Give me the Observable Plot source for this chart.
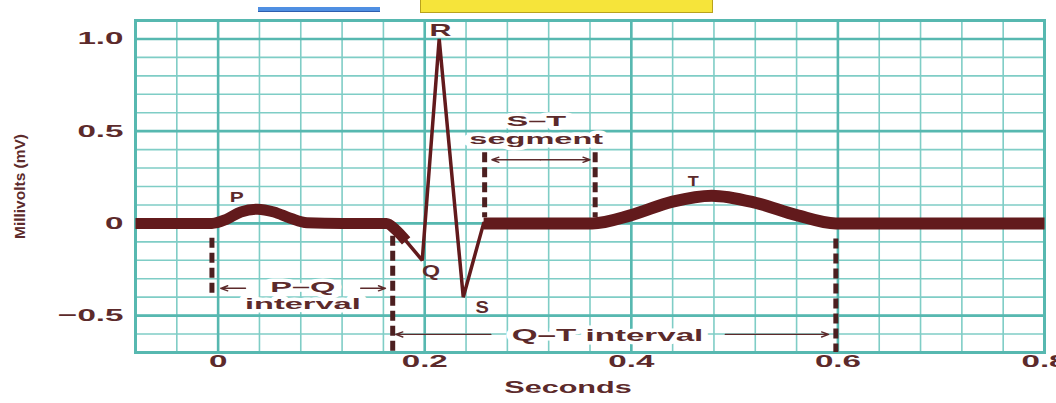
<!DOCTYPE html>
<html>
<head>
<meta charset="utf-8">
<script src="https://cdn.jsdelivr.net/npm/d3@7"></script>
<script src="https://cdn.jsdelivr.net/npm/@observablehq/plot@0.6"></script>
<style>
  html, body { margin: 0; padding: 0; background: #fff; overflow: hidden; }
  #wrap { position: relative; width: 1056px; height: 403px; }
  .deco { position: absolute; box-sizing: border-box; }
</style>
</head>
<body>
<div id="wrap">
  <div class="deco" style="left:258px; top:7px; width:122px; height:5px; background:#4f8fe2; border-bottom:1px solid #2e5fae;"></div>
  <div class="deco" style="left:420px; top:0px; width:293px; height:13px; background:#f6e43a; border:1px solid #b9a21c; border-top:none;"></div>
</div>
<script>
// ---- Data ----
// Thick trace: baseline, P wave, P–R segment (seconds, mV)
const pTime = [-0.08, -0.006, 0.008, 0.022, 0.038, 0.054, 0.070, 0.086, 0.12, 0.163, 0.172, 0.182];
const pMv   = [0, 0, 0.022, 0.062, 0.077, 0.062, 0.028, 0.003, 0, 0, -0.035, -0.095];
// Thin QRS complex
const qrsTime = [0.181, 0.1976, 0.2140, 0.2373, 0.257];
const qrsMv   = [-0.09, -0.20, 1.0, -0.40, 0];
// Thick trace: S–T segment, T wave, baseline
const tTime = [0.257, 0.30, 0.362, 0.40, 0.44, 0.478, 0.52, 0.56, 0.598, 0.65, 0.8];
const tMv   = [0, 0, 0, 0.045, 0.118, 0.150, 0.112, 0.045, 0, 0, 0];

// Dashed interval markers
const dashTime   = [-0.006, 0.169, 0.258, 0.365, 0.598];
const dashTop    = [-0.08, -0.07, 0.383, 0.383, -0.085];
const dashBottom = [-0.40, -0.70, 0.03, 0.03, -0.70];

// Arrows (tail -> head)
const arrowX1 = [0.0265, 0.138, 0.312, 0.312, 0.264, 0.491];
const arrowX2 = [0.0025, 0.162, 0.265, 0.360, 0.172, 0.591];
const arrowY  = [-0.352, -0.352, 0.345, 0.345, -0.602, -0.602];

// Wave labels
const waveLabels = ["P", "Q", "R", "S", "T"];
const waveTime   = [0.018, 0.206, 0.2153, 0.2555, 0.460];
const waveMv     = [0.140, -0.265, 1.045, -0.46, 0.230];
const waveSize   = [15, 16, 16, 16, 15];

// Interval labels
const noteLabels = ["P–Q\ninterval", "S–T\nsegment", "Q–T interval"];
const noteTime   = [0.082, 0.308, 0.377];
const noteMv     = [-0.389, 0.509, -0.602];
const noteSize   = [15.5, 15.5, 17];

// Axes
const xTicks = [0, 0.2, 0.4, 0.6, 0.8];
const xTickLabels = ["0", "0.2", "0.4", "0.6", "0.8"];
const yTicks = [1.0, 0.5, 0, -0.5];
const yTickLabels = ["1.0", "0.5", "0", "−0.5"];
const xTitle = "Seconds";
const yTitle = "Millivolts (mV)";
const yTitleAt = [0.2];

// ---- Styles ----
const traceColor = "#621a1c";
const dashColor = "#4c1f20";
const textColor = "#5c2a2b";
const gridMinor = "#7fcdc6";
const gridMajor = "#57b8b0";

const minorX = d3.range(-2, 21).map(i => +(i * 0.04).toFixed(2));
const minorY = d3.range(-7, 12).map(i => +(i * 0.1).toFixed(1));
const majorX = xTicks;
const majorY = yTicks;

const pData = pTime.map((t, i) => ({t, v: pMv[i]}));
const qrsData = qrsTime.map((t, i) => ({t, v: qrsMv[i]}));
const tData = tTime.map((t, i) => ({t, v: tMv[i]}));
const dashData = dashTime.map((t, i) => ({t, y1: dashTop[i], y2: dashBottom[i]}));
const arrowData = arrowX1.map((x1, i) => ({x1, x2: arrowX2[i], y: arrowY[i]}));
const waveData = waveLabels.map((s, i) => ({s, t: waveTime[i], v: waveMv[i], size: waveSize[i]}));
const noteData = noteLabels.map((s, i) => ({s, t: noteTime[i], v: noteMv[i], size: noteSize[i]}));

const chart = Plot.plot({
  width: 1056,
  height: 403,
  marginLeft: 135,
  marginRight: 12,
  marginTop: 20,
  marginBottom: 51,
  x: {domain: [-0.08, 0.8], axis: null},
  y: {domain: [-0.7, 1.1], axis: null},
  style: {background: "transparent", fontFamily: "'Liberation Sans', Arial, sans-serif", overflow: "visible"},
  marks: [
    Plot.ruleX(minorX, {stroke: gridMinor, strokeWidth: 1.6}),
    Plot.ruleY(minorY, {stroke: gridMinor, strokeWidth: 1.6}),
    Plot.ruleX(majorX, {stroke: gridMajor, strokeWidth: 2.6}),
    Plot.ruleY(majorY, {stroke: gridMajor, strokeWidth: 2.6}),
    Plot.frame({stroke: gridMajor, strokeWidth: 3}),
    // dashed interval markers
    Plot.ruleX(dashData, {x: "t", y1: "y1", y2: "y2", stroke: dashColor, strokeWidth: 5, strokeDasharray: "10,5"}),
    // trace
    Plot.line(pData, {x: "t", y: "v", stroke: traceColor, strokeWidth: 11, curve: "monotone-x", strokeLinejoin: "round", strokeLinecap: "butt"}),
    Plot.line(tData, {x: "t", y: "v", stroke: traceColor, strokeWidth: 12, curve: "monotone-x", strokeLinejoin: "round", strokeLinecap: "butt"}),
    Plot.line(qrsData, {x: "t", y: "v", stroke: traceColor, strokeWidth: 3.5, strokeLinejoin: "miter"}),
    // arrows
    Plot.arrow(arrowData, {x1: "x1", x2: "x2", y1: "y", y2: "y", stroke: textColor, strokeWidth: 1.4, headLength: 8, headAngle: 40}),
    // interval labels with white backing
    Plot.text(noteData, {x: "t", y: "v", text: "s", lineHeight: 1.13, fill: textColor, fontSize: d => d.size, fontWeight: "bold", stroke: "white", strokeWidth: 7}),
    // wave labels
    Plot.text(waveData, {x: "t", y: "v", text: "s", fill: textColor, fontSize: d => d.size, fontWeight: "bold"}),
    // axis tick labels
    Plot.text(yTicks, {y: d => d, text: (d, i) => yTickLabels[i], frameAnchor: "left", dx: -12, textAnchor: "end", fill: textColor, fontSize: 17, fontWeight: "bold"}),
    Plot.text(xTicks, {x: d => d, text: (d, i) => xTickLabels[i], frameAnchor: "bottom", dy: 14, fill: textColor, fontSize: 17, fontWeight: "bold"}),
    Plot.text([xTitle], {frameAnchor: "bottom", dx: -22, dy: 40, fill: textColor, fontSize: 17, fontWeight: "bold"}),
    Plot.text(yTitleAt, {y: d => d, text: () => yTitle, frameAnchor: "left", dx: -115, rotate: -90, textAnchor: "middle", fill: textColor, fontSize: 15.5, fontWeight: "bold"})
  ]
});

// The reference typeface is a wide (extended) bold sans; emulate by stretching glyphs horizontally.
const widthScale = {"T": 1.2, "P": 1.4, "Q": 1.45, "R": 1.9, "S": 1.25, "Seconds": 1.8, "P–Qinterval": 2.1, "S–Tsegment": 2.1};
chart.querySelectorAll("text").forEach(el => {
  const tr = el.getAttribute("transform") || "";
  if (tr.includes("rotate")) return;
  const k = widthScale[el.textContent] ?? 1.95;
  if (tr) {
    el.setAttribute("transform", tr + ` scale(${k},1)`);
  } else {
    const x = el.getAttribute("x") || 0, y = el.getAttribute("y") || 0;
    el.removeAttribute("x"); el.removeAttribute("y");
    el.setAttribute("transform", `translate(${x},${y}) scale(${k},1)`);
  }
});

chart.style.position = "absolute";
chart.style.left = "0";
chart.style.top = "0";
document.getElementById("wrap").prepend(chart);
</script>
</body>
</html>
